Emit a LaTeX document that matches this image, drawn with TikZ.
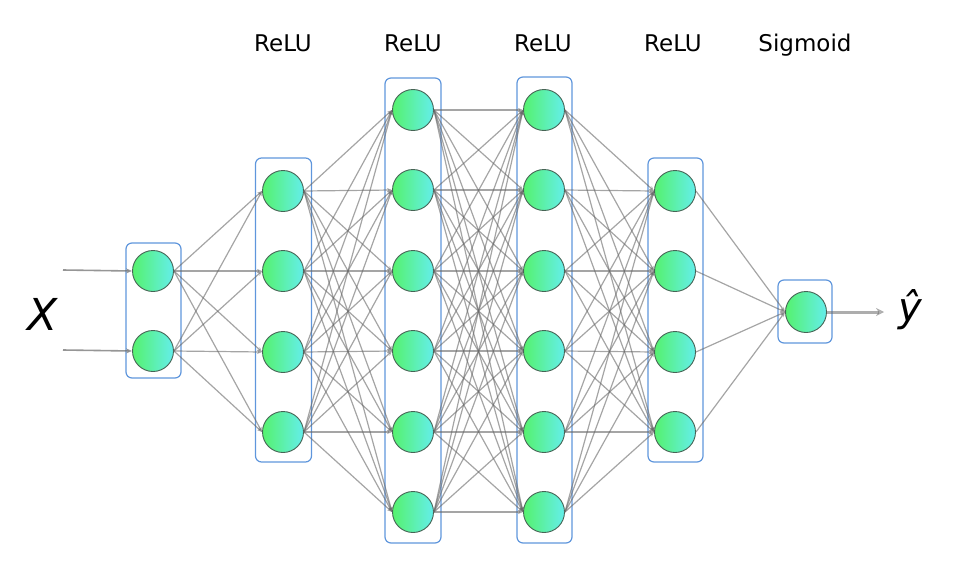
\documentclass[tikz,border=0pt]{standalone}
\usepackage{fontspec}
\setmainfont{DejaVu Sans}
\usetikzlibrary{arrows.meta}
\definecolor{boxblue}{RGB}{95,150,220}
\definecolor{ngreen}{RGB}{85,242,110}
\definecolor{ncyan}{RGB}{100,238,235}
\definecolor{nborder}{RGB}{70,100,85}
\definecolor{edgegray}{RGB}{105,105,105}
\tikzset{
  neuron/.style={circle, minimum size=41pt, inner sep=0pt, draw=nborder, line width=0.9pt,
    left color=ngreen, right color=ncyan},
  layerbox/.style={draw=boxblue, line width=1.2pt, rounded corners=6pt, fill=none},
  conn/.style={draw=edgegray, line width=1.2pt, draw opacity=0.6,
    -{Stealth[open, length=5pt, width=4pt]}},
  inarrow/.style={draw=edgegray, line width=1.6pt, draw opacity=0.7,
    -{Stealth[open, length=6pt, width=5pt]}},
  outarrow/.style={draw=edgegray, line width=3pt, draw opacity=0.55,
    -{Stealth[open, length=8pt, width=8pt]}},
  actlabel/.style={font=\fontsize{23}{26}\selectfont, anchor=base},
}
\begin{document}
\begin{tikzpicture}[x=1pt, y=-1pt]
\useasboundingbox (0,0) rectangle (965,578);
% layer boxes
\node[layerbox, minimum width=55pt, minimum height=135pt] (B0) at (153.5,310.5) {};
\node[layerbox, minimum width=56pt, minimum height=304pt] (B1) at (283.5,310) {};
\node[layerbox, minimum width=56pt, minimum height=465pt] (B2) at (413,310.5) {};
\node[layerbox, minimum width=55pt, minimum height=466pt] (B3) at (544.5,310) {};
\node[layerbox, minimum width=55pt, minimum height=304pt] (B4) at (675.5,310) {};
\node[layerbox, minimum width=54pt, minimum height=63pt] (B5) at (805,311.5) {};
% neurons
\foreach \i/\y in {1/271,2/351} \node[neuron] (A\i) at (153,\y) {};
\foreach \i/\y in {1/191,2/271,3/352,4/432} \node[neuron] (C\i) at (283,\y) {};
\foreach \i/\y in {1/110,2/190,3/271,4/351,5/432,6/512} \node[neuron] (D\i) at (413,\y) {};
\foreach \i/\y in {1/110,2/190,3/271,4/351,5/432,6/512} \node[neuron] (E\i) at (544,\y) {};
\foreach \i/\y in {1/191,2/271,3/352,4/432} \node[neuron] (F\i) at (675,\y) {};
\node[neuron] (G1) at (806,312) {};
% connections
\foreach \a in {1,2} \foreach \b in {1,...,4} \draw[conn] (A\a.east) -- (C\b.west);
\foreach \a in {1,...,4} \foreach \b in {1,...,6} \draw[conn] (C\a.east) -- (D\b.west);
\foreach \a in {1,...,6} \foreach \b in {1,...,6} \draw[conn] (D\a.east) -- (E\b.west);
\foreach \a in {1,...,6} \foreach \b in {1,...,4} \draw[conn] (E\a.east) -- (F\b.west);
\foreach \a in {1,...,4} \draw[conn] (F\a.east) -- (G1.west);
% input / output
\coordinate (in1) at (63,270);
\coordinate (in2) at (63,350);
\coordinate (out) at (884,312);
\draw[inarrow] (in1) -- (A1.west);
\draw[inarrow] (in2) -- (A2.west);
\draw[outarrow] (G1.east) -- (out);
% labels
\node[font=\fontsize{44}{48}\selectfont\itshape] (X) at (43,314) {X};
\node[font=\fontsize{40}{44}\selectfont\itshape] (Y) at (910,310) {ŷ};
\node[actlabel] (l1) at (283,52) {ReLU};
\node[actlabel] (l2) at (413,52) {ReLU};
\node[actlabel] (l3) at (543,52) {ReLU};
\node[actlabel] (l4) at (673,52) {ReLU};
\node[actlabel] (l5) at (805,52) {Sigmoid};
\end{tikzpicture}
\end{document}
